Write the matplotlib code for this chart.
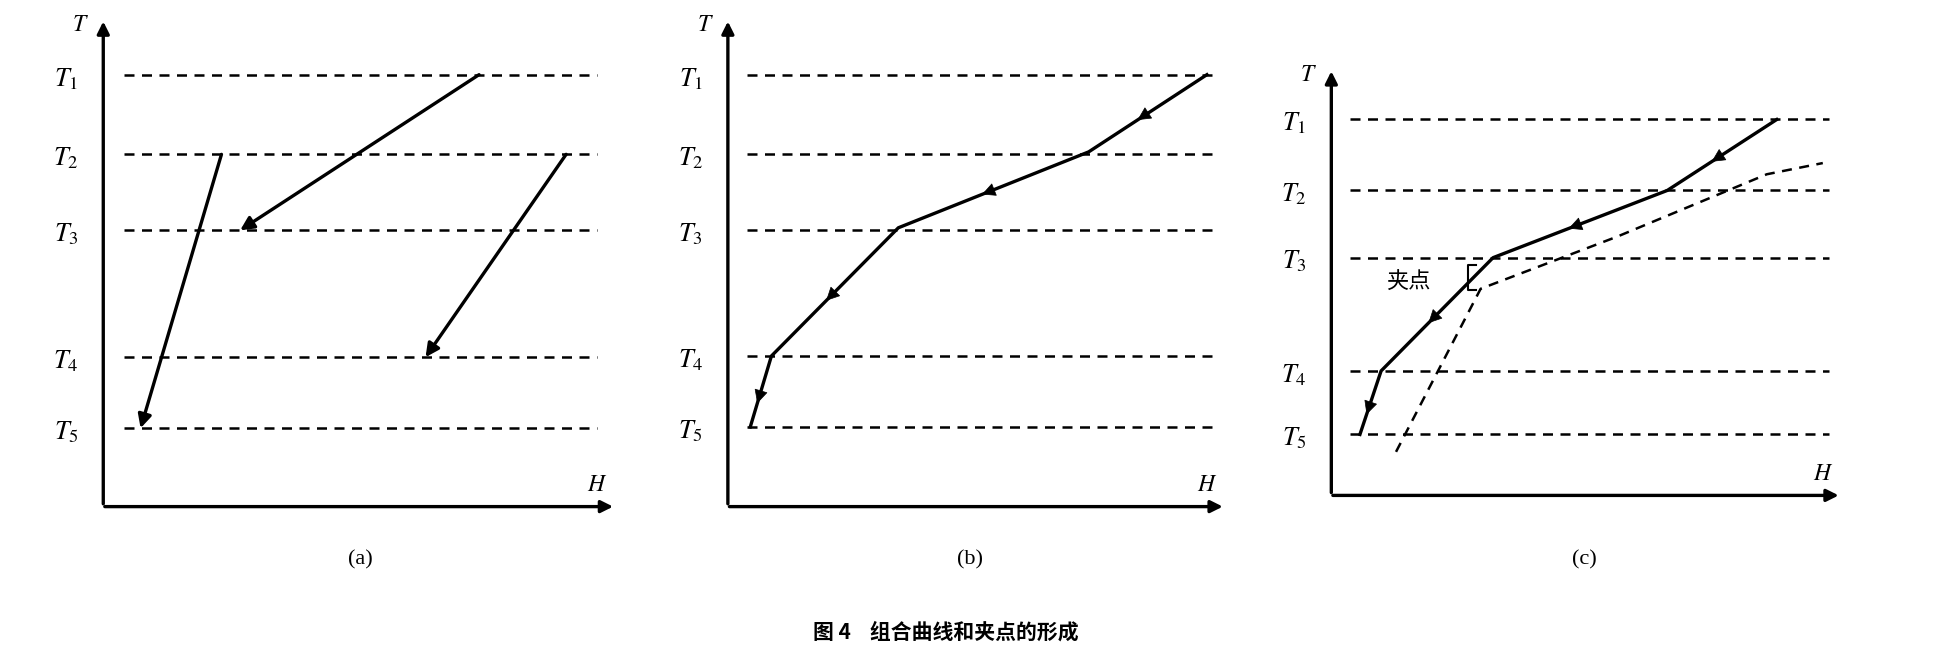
import matplotlib
matplotlib.use("Agg")
import matplotlib.pyplot as plt
import numpy as np

plt.rcParams['font.family'] = ['Noto Sans CJK SC', 'DejaVu Sans']
plt.rcParams['mathtext.fontset'] = 'stix'

# panel data (in displayed-image units)
labels_T = ["$T_1$", "$T_2$", "$T_3$", "$T_4$", "$T_5$"]
a_levels = [60, 124, 185, 287, 344]
b_levels = [60, 124, 185, 286, 343]
c_levels = [96, 153, 207, 298, 349]
a_streams = [[(178, 124), (113, 344)], [(385, 60), (193, 185)], [(455, 124), (342, 287)]]
b_curve_H = [970, 875, 722, 620, 603]
b_curve_T = [60, 122, 183, 286, 343]
c_hot_H = [1428, 1340, 1200, 1110, 1093]
c_hot_T = [96, 153, 207, 298, 349]
c_cold_H = [1122, 1190, 1300, 1420, 1465]
c_cold_T = [363, 232, 190, 140, 131]

W, Hh = 1560, 523
fig = plt.figure(figsize=(19.41, 6.51), dpi=100)
ax = fig.add_axes([0, 0, 1, 1])
ax.set_xlim(0, W); ax.set_ylim(Hh, 0); ax.axis('off')

def axes_frame(x0, ybot, ytop, xend, levels, dx0, dx1):
    ax.annotate("", xy=(x0, ytop), xytext=(x0, ybot),
                arrowprops=dict(arrowstyle='-|>', lw=2.4, color='k', mutation_scale=18))
    ax.annotate("", xy=(xend, ybot), xytext=(x0 - 1, ybot),
                arrowprops=dict(arrowstyle='-|>', lw=2.4, color='k', mutation_scale=18))
    ax.text(x0 - 18, ytop + 5, "$T$", fontsize=17, ha='center', va='center')
    ax.text(xend - 15, ybot - 18, "$H$", fontsize=17, ha='center', va='center')
    for lab, y in zip(labels_T, levels):
        ax.plot([dx0, dx1], [y, y], ls=(0, (4, 3)), color='k', lw=1.8)
        ax.text(x0 - 30, y + 3, lab, fontsize=19, ha='center', va='center')

def seg_arrow(p, q, frac=0.5):
    p = np.array(p, float); q = np.array(q, float)
    m = p + (q - p) * frac
    d = (q - p) / np.hypot(*(q - p)) * 10
    ax.annotate("", xy=m + d, xytext=m - d,
                arrowprops=dict(arrowstyle='-|>', lw=0.5, color='k', mutation_scale=22,
                                shrinkA=0, shrinkB=0))

serif = dict(family=['Liberation Serif'], fontsize=16)

# (a)
axes_frame(83, 407, 15, 495, a_levels, 100, 480)
for (p, q) in a_streams:
    ax.annotate("", xy=q, xytext=p,
                arrowprops=dict(arrowstyle='-|>', lw=2.4, color='k', mutation_scale=20, shrinkA=0, shrinkB=0))
ax.text(290, 450, "(a)", ha='center', va='center', **serif)

# (b)
axes_frame(585, 407, 15, 985, b_levels, 600, 975)
ax.plot(b_curve_H, b_curve_T, color='k', lw=2.4)
for i in range(len(b_curve_H) - 1):
    seg_arrow((b_curve_H[i], b_curve_T[i]), (b_curve_H[i + 1], b_curve_T[i + 1]))
ax.text(780, 450, "(b)", ha='center', va='center', **serif)

# (c)
axes_frame(1070, 398, 55, 1480, c_levels, 1085, 1470)
ax.plot(c_hot_H, c_hot_T, color='k', lw=2.4)
for i in range(len(c_hot_H) - 1):
    seg_arrow((c_hot_H[i], c_hot_T[i]), (c_hot_H[i + 1], c_hot_T[i + 1]))
ax.plot(c_cold_H, c_cold_T, color='k', lw=1.8, ls=(0, (4, 3)))
ax.text(1132, 227, "夹点", fontsize=16, ha='center', va='center')
ax.plot([1186, 1180, 1180, 1186], [213, 213, 233, 233], color='k', lw=1.5)
ax.text(1273, 450, "(c)", ha='center', va='center', **serif)

ax.text(760, 508, "图 4    组合曲线和夹点的形成", fontsize=15, fontweight='bold',
        ha='center', va='center')

fig.savefig("out.png", dpi=100)
